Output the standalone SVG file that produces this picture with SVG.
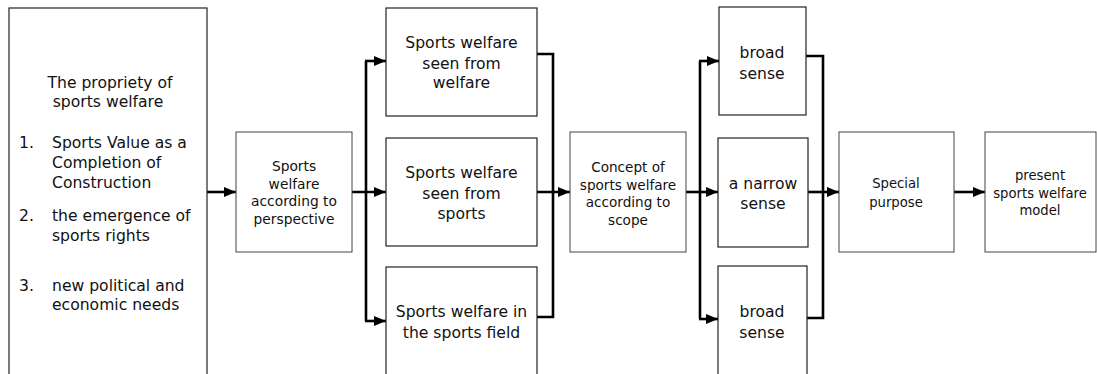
<svg xmlns="http://www.w3.org/2000/svg" width="1097" height="374" viewBox="0 0 1097 374">
<defs>
<style>
.box{fill:#fff;stroke:#222;stroke-width:1.2}
.sbox{fill:#fff;stroke:#444;stroke-width:1}
.t{font-family:"DejaVu Sans",sans-serif;fill:#111;text-anchor:middle}
.l{font-family:"DejaVu Sans",sans-serif;fill:#111;font-size:15.6px}
.c{fill:none;stroke:#000;stroke-width:2.6}
.a{fill:none;stroke:#000;stroke-width:2.6;marker-end:url(#ah)}
</style>
<marker id="ah" markerUnits="userSpaceOnUse" markerWidth="12" markerHeight="12" viewBox="0 0 12 12" refX="12" refY="6" orient="auto">
<path d="M0,1 L12,6 L0,11 Z" fill="#000"/>
</marker>
</defs>
<rect width="1097" height="374" fill="#fff"/>

<g id="connectors">
<line class="a" x1="207" y1="192" x2="236" y2="192"/>
<line class="a" x1="352" y1="192" x2="386" y2="192"/>
<polyline class="c" points="366,61 366,321"/>
<line class="a" x1="365" y1="61" x2="386" y2="61"/>
<line class="a" x1="365" y1="321" x2="386" y2="321"/>
<polyline class="c" points="537,54 553,54 553,317 537,317"/>
<line class="a" x1="537" y1="192" x2="570" y2="192"/>
<line class="a" x1="686" y1="192" x2="718" y2="192"/>
<polyline class="c" points="700,61 700,319"/>
<line class="a" x1="699" y1="61" x2="719" y2="61"/>
<line class="a" x1="699" y1="319" x2="718" y2="319"/>
<polyline class="c" points="806,56 823,56 823,318 807,318"/>
<line class="a" x1="808" y1="192" x2="839" y2="192"/>
<line class="a" x1="954" y1="192" x2="985" y2="192"/>
</g>

<g id="n-propriety">
<rect class="box" x="9" y="8" width="198" height="380"/>
<text class="t" font-size="15.6" x="110" y="88">The propriety of</text>
<text class="t" font-size="15.6" x="108" y="107">sports welfare</text>
<text class="l" x="19" y="148">1.</text>
<text class="l" x="52" y="148">Sports Value as a</text>
<text class="l" x="52" y="168">Completion of</text>
<text class="l" x="52" y="188">Construction</text>
<text class="l" x="19" y="221">2.</text>
<text class="l" x="52" y="221">the emergence of</text>
<text class="l" x="52" y="241">sports rights</text>
<text class="l" x="19" y="291">3.</text>
<text class="l" x="52" y="291">new political and</text>
<text class="l" x="52" y="310">economic needs</text>
</g>

<g id="n-perspective">
<rect class="sbox" x="236" y="132" width="116" height="120"/>
<text class="t" font-size="13.8" x="294" y="171">Sports</text>
<text class="t" font-size="13.8" x="294" y="189">welfare</text>
<text class="t" font-size="13.8" x="294" y="206">according to</text>
<text class="t" font-size="13.8" x="294" y="224">perspective</text>
</g>

<g id="n-seen-welfare">
<rect class="box" x="386" y="8" width="151" height="108"/>
<text class="t" font-size="15.6" x="461.5" y="48">Sports welfare</text>
<text class="t" font-size="15.6" x="461.5" y="69">seen from</text>
<text class="t" font-size="15.6" x="461.5" y="88">welfare</text>
</g>

<g id="n-seen-sports">
<rect class="box" x="386" y="138" width="151" height="108"/>
<text class="t" font-size="15.6" x="461.5" y="178">Sports welfare</text>
<text class="t" font-size="15.6" x="461.5" y="199">seen from</text>
<text class="t" font-size="15.6" x="461.5" y="219">sports</text>
</g>

<g id="n-sports-field">
<rect class="box" x="386" y="267" width="151" height="120"/>
<text class="t" font-size="15.6" x="461.5" y="317">Sports welfare in</text>
<text class="t" font-size="15.6" x="461.5" y="338">the sports field</text>
</g>

<g id="n-concept">
<rect class="sbox" x="570" y="132" width="116" height="120"/>
<text class="t" font-size="13.6" x="628" y="172">Concept of</text>
<text class="t" font-size="13.6" x="628" y="190">sports welfare</text>
<text class="t" font-size="13.6" x="628" y="207">according to</text>
<text class="t" font-size="13.6" x="628" y="225">scope</text>
</g>

<g id="n-broad1">
<rect class="box" x="719" y="7" width="87" height="108"/>
<text class="t" font-size="15.6" x="762" y="58">broad</text>
<text class="t" font-size="15.6" x="762" y="79">sense</text>
</g>

<g id="n-narrow">
<rect class="box" x="718" y="138" width="90" height="109"/>
<text class="t" font-size="15.6" x="763" y="189">a narrow</text>
<text class="t" font-size="15.6" x="763" y="209">sense</text>
</g>

<g id="n-broad2">
<rect class="box" x="718" y="266" width="89" height="120"/>
<text class="t" font-size="15.6" x="762" y="317">broad</text>
<text class="t" font-size="15.6" x="762" y="338">sense</text>
</g>

<g id="n-special">
<rect class="sbox" x="839" y="132" width="115" height="120"/>
<text class="t" font-size="13.2" x="896" y="188">Special</text>
<text class="t" font-size="13.2" x="896" y="207">purpose</text>
</g>

<g id="n-present">
<rect class="sbox" x="985" y="132" width="111" height="120"/>
<text class="t" font-size="13.2" x="1040" y="180">present</text>
<text class="t" font-size="13.2" x="1040" y="198">sports welfare</text>
<text class="t" font-size="13.2" x="1040" y="215">model</text>
</g>
</svg>
